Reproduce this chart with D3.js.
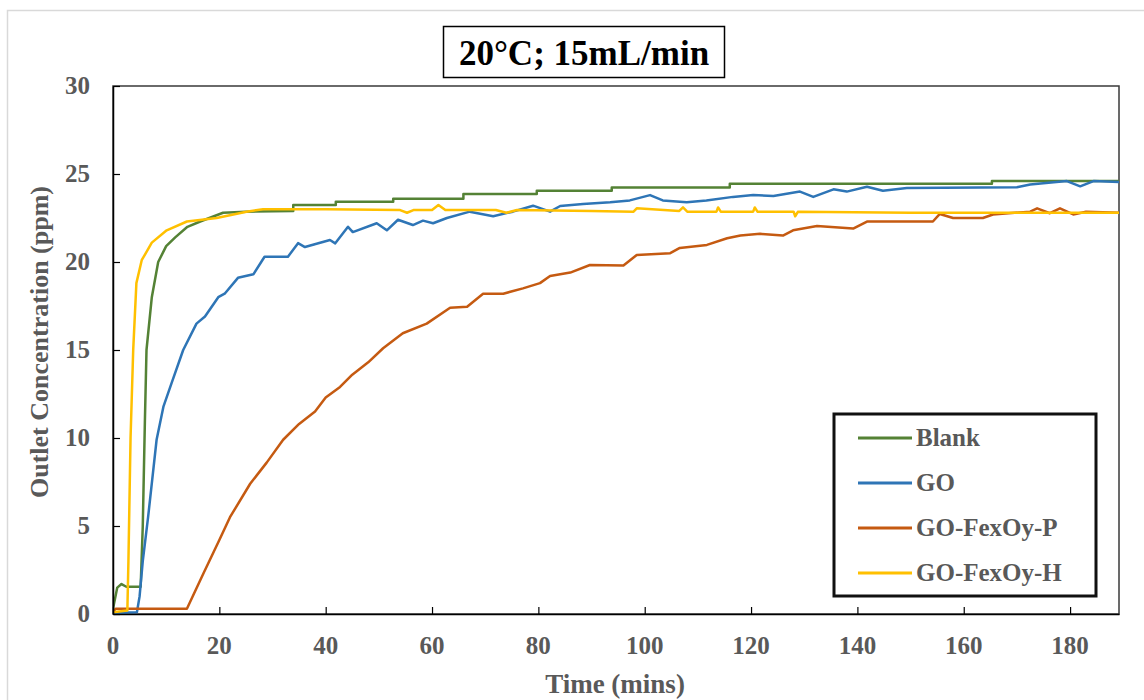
<!DOCTYPE html>
<html lang="en">
<head>
    <meta charset="UTF-8">
    <title>Outlet Concentration vs Time</title>
    <script src="https://d3js.org/d3.v7.min.js"></script>
    <style>
        body { margin: 0; background: #fff; }
        .tick-label, .axis-title, .legend-label {
            font-family: "Liberation Serif", "Times New Roman", serif;
            font-weight: bold;
            fill: #595959;
        }
        .series { fill: none; stroke-width: 2.5px; stroke-linejoin: round; }
    </style>
</head>
<body>
    <script>
        // Series (time in mins, concentration in ppm)
        var seriesNames = ["Blank", "GO", "GO-FexOy-P", "GO-FexOy-H"];
        var seriesColors = ["#548235", "#2e75b6", "#c55a11", "#ffc000"];

        var timeBlank = [0, 0.8, 1.6, 2.5, 5.2, 5.6, 6.0, 6.3, 7.3, 8.5, 10, 11.7, 14, 16.4, 20.7, 25,
            33.9, 33.9, 41.9, 41.9, 52.7, 52.7, 65.9, 65.9, 79.7, 79.7, 93.8, 93.8, 116, 116, 165.3, 165.3, 189.2];
        var concBlank = [0.3, 1.5, 1.7, 1.55, 1.55, 5, 11, 15, 18, 20.0, 20.9, 21.4, 22.0, 22.3, 22.8, 22.86,
            22.9, 23.24, 23.24, 23.43, 23.43, 23.6, 23.6, 23.86, 23.86, 24.05, 24.05, 24.23, 24.23, 24.45, 24.45, 24.6, 24.6];

        var timeGO = [0, 4.5, 5.0, 5.6, 6.6, 8.2, 9.5, 11, 13.2, 15.7, 17.3, 19.8, 21, 23.5, 26.4, 28.5, 32.9,
            34.8, 36.1, 40.8, 41.8, 44.2, 45.1, 49.6, 51.5, 53.6, 56.4, 58.3, 60.2, 62.8, 67.1, 71.5, 75.2,
            79, 82.2, 84.1, 88.4, 93.5, 97.2, 101, 103.4, 107.9, 111.6, 116.6, 120.4, 124.2, 129.2, 131.7,
            135.5, 138, 141.8, 144.8, 149.3, 170, 172.5, 179.4, 181.9, 184.4, 189.2];
        var concGO = [0.05, 0.1, 1.0, 3.0, 5.5, 9.9, 11.8, 13.1, 15.0, 16.5, 16.9, 18.0, 18.2, 19.1, 19.3, 20.3, 20.3,
            21.07, 20.85, 21.25, 21.06, 22.0, 21.7, 22.2, 21.8, 22.4, 22.1, 22.35, 22.2, 22.5, 22.86, 22.6, 22.86,
            23.2, 22.86, 23.18, 23.3, 23.4, 23.5, 23.8, 23.5, 23.4, 23.5, 23.7, 23.8, 23.75, 24.0, 23.7,
            24.13, 24.0, 24.28, 24.05, 24.2, 24.25, 24.4, 24.6, 24.3, 24.6, 24.55];

        var timeP = [0, 0.5, 13.9, 17, 20, 22, 25.8, 28.9, 32, 35, 38, 40, 42.7, 45, 48, 50.8, 54.5, 59, 63.4,
            66.6, 69.6, 73.4, 77.1, 80.3, 82.2, 86, 89.7, 96, 98.5, 104.8, 106.6, 111.7, 115.5, 118, 121.7,
            126, 127.9, 132.4, 139.2, 141.8, 154.2, 155.5, 158, 163.6, 165.5, 172.5, 173.8, 176.2, 178.1,
            180.6, 183, 189.2];
        var concP = [0.1, 0.3, 0.3, 2.3, 4.2, 5.5, 7.4, 8.6, 9.9, 10.8, 11.5, 12.3, 12.9, 13.6, 14.3, 15.1, 15.95, 16.5, 17.4,
            17.46, 18.2, 18.2, 18.5, 18.8, 19.2, 19.4, 19.83, 19.8, 20.4, 20.5, 20.8, 20.97, 21.35, 21.5, 21.6,
            21.5, 21.8, 22.05, 21.9, 22.3, 22.3, 22.73, 22.5, 22.5, 22.7, 22.86, 23.05, 22.77, 23.05,
            22.7, 22.85, 22.8];

        var timeH = [0, 2.7, 2.9, 3.3, 3.8, 4.4, 5.4, 7.3, 10.1, 13.9, 19.5, 25.1, 28.2, 40, 54, 55.3, 56.5,
            60, 61.2, 62.5, 72, 74, 76, 90, 97.9, 98.5, 106.5, 107.2, 108, 113.5, 113.8, 114.3, 120.4, 120.7,
            121.2, 128, 128.3, 128.8, 150, 189.2];
        var concH = [0.1, 0.2, 3, 10, 15, 18.8, 20.1, 21.1, 21.8, 22.3, 22.5, 22.86, 23.0, 23.0, 22.95, 22.8, 22.95,
            22.95, 23.24, 22.95, 22.95, 22.8, 22.95, 22.9, 22.86, 23.05, 22.9, 23.1, 22.86, 22.86, 23.1, 22.86, 22.86, 23.1,
            22.86, 22.86, 22.6, 22.85, 22.8, 22.8];

        var xTicks = [0, 20, 40, 60, 80, 100, 120, 140, 160, 180];
        var yTicks = [0, 5, 10, 15, 20, 25, 30];

        var seriesTimes = [timeBlank, timeGO, timeP, timeH];
        var seriesConcs = [concBlank, concGO, concP, concH];
        var series = seriesNames.map(function(name, i) {
            return {
                name: name,
                color: seriesColors[i],
                points: seriesTimes[i].map(function(t, j) { return [t, seriesConcs[i][j]]; })
            };
        });

        var W = 1144, H = 700;
        var plot = {left: 113, top: 86, right: 1119, bottom: 614};

        var svg = d3.select("body").append("svg")
            .attr("width", W)
            .attr("height", H);

        // light frame around the figure
        svg.append("rect")
            .attr("x", 7.5).attr("y", 10.5)
            .attr("width", 1150).attr("height", 720)
            .attr("fill", "#fff")
            .attr("stroke", "#d9d9d9")
            .attr("stroke-width", 1.5);

        var x = d3.scaleLinear().domain([0, 189.2]).range([plot.left, plot.right]);
        var y = d3.scaleLinear().domain([0, 30]).range([plot.bottom, plot.top]);

        // plot area box
        svg.append("rect")
            .attr("x", plot.left).attr("y", plot.top)
            .attr("width", plot.right - plot.left)
            .attr("height", plot.bottom - plot.top)
            .attr("fill", "none")
            .attr("stroke", "#3a3a3a")
            .attr("stroke-width", 1.5);

        svg.append("clipPath").attr("id", "clip")
            .append("rect")
            .attr("x", plot.left).attr("y", plot.top - 5)
            .attr("width", plot.right - plot.left)
            .attr("height", plot.bottom - plot.top + 5);

        // lines
        var line = d3.line()
            .x(function(d) { return x(d[0]); })
            .y(function(d) { return y(d[1]); });

        svg.append("g").attr("clip-path", "url(#clip)")
            .selectAll(".series")
            .data(series)
            .enter().append("path")
            .attr("class", "series")
            .attr("stroke", function(d) { return d.color; })
            .attr("d", function(d) { return line(d.points); });

        // axes: ticks point inward
        var xAxis = svg.append("g")
            .attr("transform", "translate(0," + plot.bottom + ")")
            .call(d3.axisBottom(x).tickValues(xTicks).tickSizeInner(-7).tickSizeOuter(0).tickFormat(""));
        var yAxis = svg.append("g")
            .attr("transform", "translate(" + plot.left + ",0)")
            .call(d3.axisLeft(y).tickValues(yTicks).tickSizeInner(-7).tickSizeOuter(0).tickFormat(""));
        [xAxis, yAxis].forEach(function(a) {
            a.select(".domain").attr("stroke", "#000").attr("stroke-width", 1.5);
            a.selectAll(".tick line").attr("stroke", "#000").attr("stroke-width", 1.2);
        });

        svg.selectAll(".xlab")
            .data(xTicks)
            .enter().append("text")
            .attr("class", "tick-label")
            .attr("x", function(d) { return x(d); })
            .attr("y", plot.bottom + 40)
            .attr("text-anchor", "middle")
            .style("font-size", "25px")
            .text(function(d) { return d; });

        svg.selectAll(".ylab")
            .data(yTicks)
            .enter().append("text")
            .attr("class", "tick-label")
            .attr("x", plot.left - 23)
            .attr("y", function(d) { return y(d) + 8; })
            .attr("text-anchor", "end")
            .style("font-size", "25px")
            .text(function(d) { return d; });

        // axis titles
        svg.append("text")
            .attr("class", "axis-title")
            .attr("x", 615).attr("y", 693)
            .attr("text-anchor", "middle")
            .style("font-size", "27px")
            .text("Time (mins)");

        svg.append("text")
            .attr("class", "axis-title")
            .attr("transform", "translate(48,342) rotate(-90)")
            .attr("text-anchor", "middle")
            .style("font-size", "26px")
            .text("Outlet Concentration (ppm)");

        // title box
        svg.append("rect")
            .attr("x", 443.5).attr("y", 26.5)
            .attr("width", 281).attr("height", 51)
            .attr("fill", "#fff")
            .attr("stroke", "#000")
            .attr("stroke-width", 1.5);
        svg.append("text")
            .attr("x", 584).attr("y", 65)
            .attr("text-anchor", "middle")
            .style("font-family", "'Liberation Serif', 'Times New Roman', serif")
            .style("font-weight", "bold")
            .style("font-size", "35px")
            .style("fill", "#000")
            .text("20\u00B0C; 15mL/min");

        // legend
        svg.append("rect")
            .attr("x", 834).attr("y", 414)
            .attr("width", 262).attr("height", 182)
            .attr("fill", "#fff")
            .attr("stroke", "#111")
            .attr("stroke-width", 3);

        var legend = svg.selectAll(".legend")
            .data(series)
            .enter().append("g")
            .attr("class", "legend")
            .attr("transform", function(d, i) { return "translate(858," + (438 + i * 45) + ")"; });
        legend.append("line")
            .attr("x1", 0).attr("x2", 54)
            .attr("stroke", function(d) { return d.color; })
            .attr("stroke-width", 3);
        legend.append("text")
            .attr("class", "legend-label")
            .attr("x", 58).attr("y", 8)
            .style("font-size", "25px")
            .text(function(d) { return d.name; });
    </script>
</body>
</html>
